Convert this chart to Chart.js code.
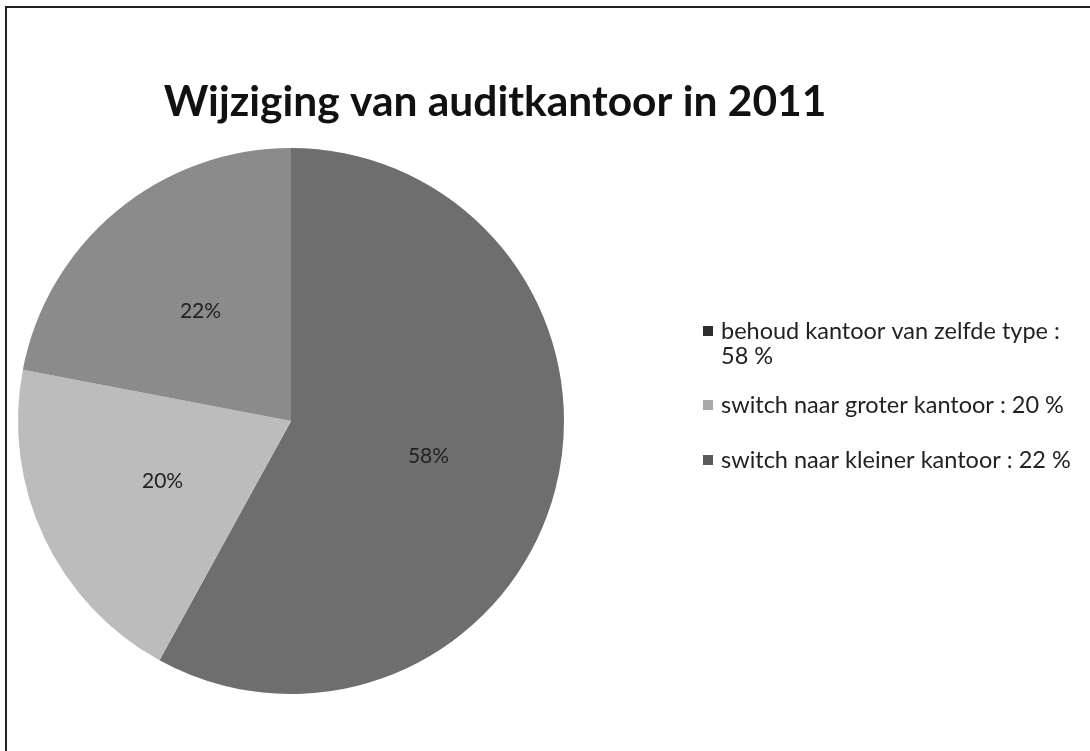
<!DOCTYPE html>
<html>
<head>
<meta charset="utf-8">
<script src="https://cdn.jsdelivr.net/npm/chart.js@4"></script>
<style>
  html, body { margin: 0; padding: 0; background: #fff; }
  #wrap { position: relative; width: 1090px; height: 751px; }
  #frame { position: absolute; left: 5px; top: 6px; right: 0; bottom: 0;
           border-left: 2px solid #222; border-top: 2px solid #222; pointer-events: none; }
</style>
</head>
<body>
<div id="wrap">
  <canvas id="pieChart" width="1090" height="751"></canvas>
  <div id="frame"></div>
</div>
<script>
const chartTitle = 'Wijziging van auditkantoor in 2011';
const labels = ['58%', '20%', '22%'];
const legendLabels = [
    ['behoud kantoor van zelfde type :', '58 %'],
    ['switch naar groter kantoor : 20 %'],
    ['switch naar kleiner kantoor : 22 %']
];
const shares = [58, 20, 22];
const sliceColors = ['#6e6e6e', '#bcbcbc', '#8b8b8b'];
const markerColors = ['#2e2e2e', '#a8a8a8', '#5a5a5a'];

// title, slice labels and legend drawn on the canvas
const textPlugin = {
    id: 'textPlugin',
    afterDraw(chart) {
        const ctx = chart.ctx;
        ctx.save();
        ctx.fillStyle = '#111';
        ctx.font = 'bold 42.5px Lato';
        ctx.textAlign = 'center';
        ctx.textBaseline = 'alphabetic';
        ctx.fillText(chartTitle, 495, 116);

        // percentage labels inside slices
        const meta = chart.getDatasetMeta(0);
        ctx.font = '21px Lato';
        ctx.fillStyle = '#222';
        ctx.textBaseline = 'middle';
        meta.data.forEach((arc, i) => {
            const mid = (arc.startAngle + arc.endAngle) / 2;
            const r = arc.outerRadius * 0.52;
            ctx.fillText(labels[i], arc.x + Math.cos(mid) * r, arc.y + Math.sin(mid) * r);
        });

        // legend
        ctx.textAlign = 'left';
        ctx.font = '23.5px Lato';
        const rows = [331, 405, 460];
        legendLabels.forEach((lines, i) => {
            ctx.fillStyle = markerColors[i];
            ctx.fillRect(703, rows[i] - 5, 10, 10);
            ctx.fillStyle = '#222';
            lines.forEach((t, j) => ctx.fillText(t, 721, rows[i] + j * 25));
        });
        ctx.restore();
    }
};

new Chart(document.getElementById('pieChart'), {
    type: 'pie',
    data: {
        labels: labels,
        datasets: [{
            data: shares,
            backgroundColor: sliceColors,
            borderWidth: 0
        }]
    },
    options: {
        responsive: false,
        animation: false,
        layout: { padding: { left: 18, top: 148, right: 526, bottom: 57 } },
        plugins: {
            legend: { display: false },
            tooltip: { enabled: false }
        }
    },
    plugins: [textPlugin]
});
</script>
</body>
</html>
